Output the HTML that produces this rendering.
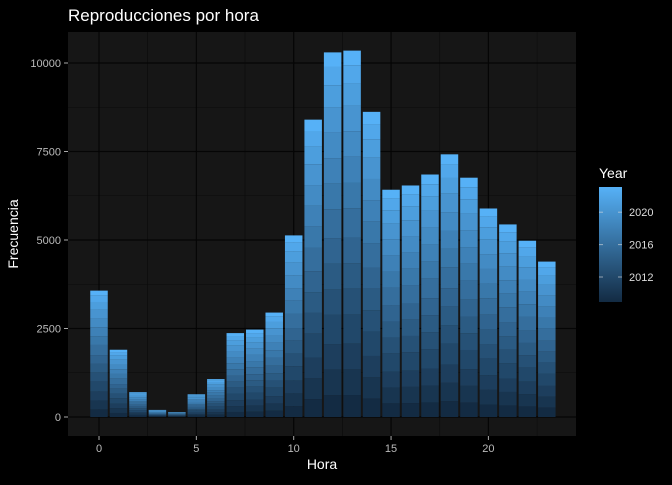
<!DOCTYPE html>
<html><head><meta charset="utf-8"><style>
body{margin:0;background:#000;width:672px;height:480px;overflow:hidden;font-family:"Liberation Sans",sans-serif}
</style></head><body>
<svg id="c" width="672" height="480" xmlns="http://www.w3.org/2000/svg">
<defs><linearGradient id="lg" x1="0" y1="1" x2="0" y2="0"><stop offset="0" stop-color="#132B43"/><stop offset="1" stop-color="#56B1F7"/></linearGradient></defs>
<rect x="0" y="0" width="672" height="480" fill="#000"/>
<text x="68" y="21" fill="#fff" font-size="17">Reproducciones por hora</text>
<rect x="68" y="32" width="508" height="404" fill="#161616"/>
<g id="grid"></g><g id="bars"></g><g id="axes"></g>
<text x="322" y="469" fill="#fff" font-size="14" text-anchor="middle">Hora</text>
<text transform="translate(18,234) rotate(-90)" fill="#fff" font-size="14" text-anchor="middle">Frecuencia</text>
<g>
<text x="599" y="178" fill="#fff" font-size="14">Year</text>
<rect x="599" y="187" width="23" height="115" fill="url(#lg)"/>
<g id="leg"></g></g>
</svg>
<script>
const hours=[0,1,2,3,4,5,6,7,8,9,10,11,12,13,14,15,16,17,18,19,20,21,22,23];
const counts=[3570,1900,700,200,140,640,1070,2370,2470,2950,5130,8400,10300,10350,8620,6420,6540,6850,7420,6760,5890,5440,4980,4390];
const years=[2009,2010,2011,2012,2013,2014,2015,2016,2017,2018,2019,2020,2021,2022,2023];
const yearShare=[6,7,7,8,7,7,7,8,7,7,7,7,6,5,4];
const yTicks=[0,2500,5000,7500,10000];
const xTicks=[0,5,10,15,20];
const legTicks=[2012,2016,2020];
const ns="http://www.w3.org/2000/svg";
const X=h=>99+h*19.47, Y=v=>417-v*0.0354;
const LY=yr=>277-(yr-2012)*8.1;
function col(t){const a=[0x13,0x2B,0x43],b=[0x56,0xB1,0xF7];return `rgb(${a.map((v,i)=>Math.round(v+(b[i]-v)*t)).join(',')})`}
function mk(tag,at,p){const e=document.createElementNS(ns,tag);for(const k in at)e.setAttribute(k,at[k]);p.appendChild(e);return e}
const grid=document.getElementById('grid'),bars=document.getElementById('bars'),axes=document.getElementById('axes'),leg=document.getElementById('leg');
for(let v=1250;v<11000;v+=2500){const l=mk('line',{x1:68,x2:576,y1:Y(v),y2:Y(v),stroke:'#0b0b0b','stroke-width':0.6},grid);}
for(let h=2.5;h<26;h+=5){const l=mk('line',{x1:X(h),x2:X(h),y1:32,y2:436,stroke:'#0b0b0b','stroke-width':0.6},grid);}
yTicks.forEach(v=>{const l=mk('line',{x1:68,x2:576,y1:Y(v),y2:Y(v),stroke:'#050505','stroke-width':1.2},grid);
mk('line',{x1:64,x2:68,y1:Y(v),y2:Y(v),stroke:'#aaa'},axes);
const t=mk('text',{x:61,y:Y(v)+4,fill:'#bbb','font-size':11,'text-anchor':'end'},axes);t.textContent=v;});
xTicks.forEach(h=>{const l=mk('line',{x1:X(h),x2:X(h),y1:32,y2:436,stroke:'#050505','stroke-width':1.2},grid);
mk('line',{x1:X(h),x2:X(h),y1:436,y2:440,stroke:'#aaa'},axes);
const t=mk('text',{x:X(h),y:452,fill:'#bbb','font-size':11,'text-anchor':'middle'},axes);t.textContent=h;});
const tot=yearShare.reduce((a,b)=>a+b,0);
hours.forEach((h,i)=>{let cum=0;yearShare.forEach((s,j)=>{const v=counts[i]*s/tot;const y1=Y(cum+v),y0=Y(cum);
const r=mk('rect',{x:X(h)-8.75,y:y1,width:17.5,height:Math.max(0,y0-y1),fill:col(j/(years.length-1))},bars);
cum+=v;});});
legTicks.forEach(yr=>{mk('line',{x1:599,x2:603,y1:LY(yr),y2:LY(yr),stroke:'#ddd','stroke-opacity':0.6},leg);mk('line',{x1:618,x2:622,y1:LY(yr),y2:LY(yr),stroke:'#ddd','stroke-opacity':0.6},leg);
const t=mk('text',{x:629,y:LY(yr)+4,fill:'#ddd','font-size':11},leg);t.textContent=yr;});
</script>
</body></html>
